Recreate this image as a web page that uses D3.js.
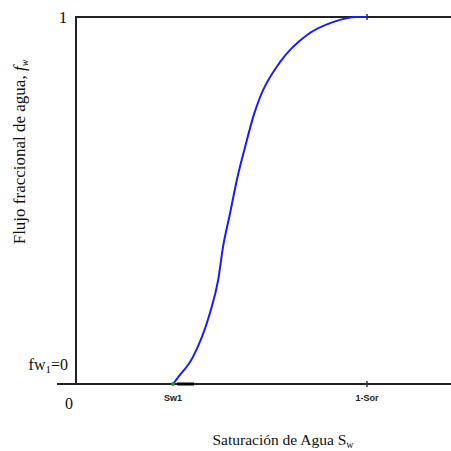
<!DOCTYPE html>
<html><head><meta charset="utf-8">
<script src="https://cdn.jsdelivr.net/npm/d3@7"></script>
<style>body{margin:0;background:#fff}svg{display:block}</style>
</head><body>
<script>
const sw = [0.259,0.269,0.312,0.357,0.379,0.392,0.411,0.429,0.451,0.475,0.491,0.544,0.616,0.685,0.749,0.776];
const fw = [0.000,0.014,0.074,0.193,0.283,0.373,0.466,0.556,0.646,0.736,0.782,0.877,0.951,0.986,1.000,1.000];
const xTickVals = [0.259, 0.776];
const xTickLabels = ["Sw1", "1-Sor"];

const W = 451, H = 451;
const svg = d3.select("body").append("svg").attr("width", W).attr("height", H);
const x = d3.scaleLinear().domain([0, 1]).range([76, 451]);
const y = d3.scaleLinear().domain([0, 1]).range([384, 17]);

// axes frame
svg.append("line").attr("x1", 57).attr("x2", 451).attr("y1", y(0)).attr("y2", y(0)).attr("stroke", "#222").attr("stroke-width", 2);
svg.append("line").attr("x1", x(0)).attr("x2", 451).attr("y1", y(1)).attr("y2", y(1)).attr("stroke", "#222").attr("stroke-width", 2);
svg.append("line").attr("x1", x(0)).attr("x2", x(0)).attr("y1", y(1)-1).attr("y2", y(0)+1).attr("stroke", "#222").attr("stroke-width", 2);

// ticks on top and bottom
svg.append("line").attr("x1", x(0.776)).attr("x2", x(0.776)).attr("y1", y(1)-3).attr("y2", y(1)+3).attr("stroke", "#333").attr("stroke-width", 1.5);
svg.append("line").attr("x1", x(0.776)).attr("x2", x(0.776)).attr("y1", y(0)-3).attr("y2", y(0)+3).attr("stroke", "#333").attr("stroke-width", 1.5);

// thick segment at Sw1
svg.append("line").attr("x1", x(0.27)).attr("x2", x(0.315)).attr("y1", y(0)).attr("y2", y(0)).attr("stroke", "#000").attr("stroke-width", 3);

// curve
const line = d3.line().x((d,i)=>x(sw[i])).y((d,i)=>y(fw[i])).curve(d3.curveMonotoneX);
svg.append("path").datum(sw).attr("d", line).attr("fill", "none").attr("stroke", "#1a1aff").attr("stroke-width", 2);
svg.append("circle").attr("cx", x(sw[0])).attr("cy", y(0)).attr("r", 2).attr("fill", "#2a8a2a");

// x tick labels
svg.selectAll("text.xt").data(xTickVals).enter().append("text").attr("class","xt")
  .attr("x", d => x(d)).attr("y", 401).attr("text-anchor", "middle")
  .attr("font-family", "Liberation Sans, Arial, sans-serif").attr("font-weight", "bold")
  .attr("font-size", 9).attr("fill", "#222").text((d,i) => xTickLabels[i]);

const serif = "Liberation Serif, Times New Roman, serif";
svg.append("text").attr("x", 63).attr("y", 23).attr("text-anchor", "middle").attr("font-family", serif).attr("font-size", 17).attr("fill","#111").text("1");
svg.append("text").attr("x", 69).attr("y", 409).attr("text-anchor", "middle").attr("font-family", serif).attr("font-size", 16).attr("fill","#111").text("0");

const fwl = svg.append("text").attr("x", 68).attr("y", 370).attr("text-anchor", "end").attr("font-family", serif).attr("font-size", 16).attr("fill","#111");
fwl.append("tspan").text("fw");
fwl.append("tspan").attr("font-size", 11).attr("dy", 3).text("1");
fwl.append("tspan").attr("dy", -3).text("=0");

const xl = svg.append("text").attr("x", 283).attr("y", 445).attr("text-anchor", "middle").attr("font-family", serif).attr("font-size", 15.5).attr("fill","#111");
xl.append("tspan").text("Saturación de Agua S");
xl.append("tspan").attr("font-size", 10).attr("dy", 3).text("w");

const yl = svg.append("text").attr("transform", "translate(25,152) rotate(-90)").attr("text-anchor", "middle").attr("font-family", serif).attr("font-size", 17).attr("fill","#111");
yl.append("tspan").text("Flujo fraccional de agua, ");
yl.append("tspan").attr("font-style", "italic").text("f");
yl.append("tspan").attr("font-size", 10).attr("font-style", "italic").attr("dy", 3).text("w");
</script>
</body></html>
